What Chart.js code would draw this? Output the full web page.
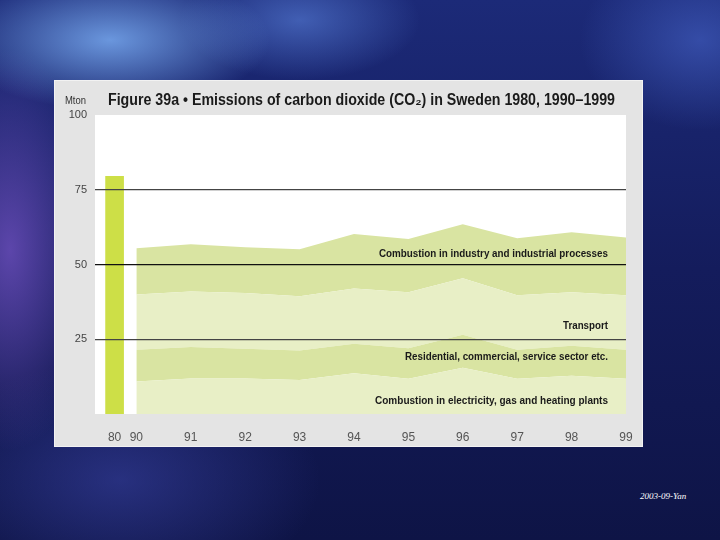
<!DOCTYPE html>
<html>
<head>
<meta charset="utf-8">
<script src="https://cdn.jsdelivr.net/npm/chart.js@4.4.1/dist/chart.umd.min.js"></script>
<style>
  html, body { margin: 0; padding: 0; }
  body {
    width: 720px; height: 540px; overflow: hidden; position: relative;
    background:
      radial-gradient(ellipse 160px 70px at 110px 40px, rgba(120,170,240,0.85), rgba(120,170,240,0) 100%),
      radial-gradient(ellipse 120px 60px at 300px 20px, rgba(90,130,220,0.6), rgba(90,130,220,0) 100%),
      radial-gradient(ellipse 90px 200px at 10px 250px, rgba(110,80,190,0.8), rgba(110,80,190,0) 100%),
      radial-gradient(ellipse 120px 90px at 700px 40px, rgba(70,100,200,0.6), rgba(70,100,200,0) 100%),
      radial-gradient(ellipse 200px 120px at 120px 480px, rgba(60,70,170,0.55), rgba(60,70,170,0) 100%),
      linear-gradient(180deg, #1c2a78 0%, #141c5c 50%, #0e1446 100%);
  }
  #panel {
    position: absolute; left: 54px; top: 80px; width: 587px; height: 365px;
    background: #e4e4e4; border: 1px solid #f2f2f2;
  }
  #stamp {
    position: absolute; left: 640px; top: 491px;
    font: italic 9px "Liberation Serif", "DejaVu Serif", serif; color: #fff;
  }
</style>
</head>
<body>
<div id="panel"><canvas id="grafico" width="587" height="365"></canvas></div>
<div id="stamp">2003-09-Yan</div>
<script>
// dados (Mton)
const anos = [1990, 1991, 1992, 1993, 1994, 1995, 1996, 1997, 1998, 1999];
const eletricidade = [10.9, 11.9, 11.9, 11.4, 13.6, 11.8, 15.5, 11.8, 12.8, 11.8];
const residencial = [10.6, 10.5, 9.9, 9.8, 9.9, 10.2, 11.0, 9.7, 10.0, 9.7];
const transporte = [18.5, 18.6, 18.7, 18.2, 18.5, 18.7, 18.9, 18.2, 17.9, 18.2];
const industria = [15.4, 15.8, 15.3, 15.7, 18.2, 17.8, 18.1, 19.1, 20.1, 19.3];
const total1980 = 79.5;
const yTicks = [25, 50, 75, 100];

const titulo = "Figure 39a \u2022 Emissions of carbon dioxide (CO\u2082) in Sweden 1980, 1990\u20131999";
// valor = altura do rotulo no eixo y, largura = largura do texto na figura
const rotulos = [
  { texto: "Combustion in industry and industrial processes", valor: 53.5, largura: 229 },
  { texto: "Transport", valor: 29.4, largura: 45 },
  { texto: "Residential, commercial, service sector etc.", valor: 19.1, largura: 203 },
  { texto: "Combustion in electricity, gas and heating plants", valor: 4.4, largura: 233 },
];

// posicao do 1980 no eixo (quebra de escala)
const POS80 = 1989.6;
const X_MIN = 1989.24;

const FONTE = "'Liberation Sans', Arial, sans-serif";
const corEscura = "#d9e4a2";
const corClara = "#e8efc6";

function serie(valores) {
  return valores.map((v, i) => ({ x: anos[i], y: v }));
}

function linha(label, valores, cor, fill) {
  return {
    type: "line",
    label: label,
    data: serie(valores),
    backgroundColor: cor,
    borderWidth: 0,
    pointRadius: 0,
    tension: 0,
    fill: fill,
    stack: "areas",
  };
}

// desenha o texto comprimido na horizontal ate a largura pedida
function textoAjustado(ctx, texto, x, y, largura) {
  let w = ctx.measureText(texto).width;
  ctx.save();
  ctx.translate(x, y);
  ctx.scale(Math.min(1, largura / w), 1);
  ctx.fillText(texto, 0, 0);
  ctx.restore();
}

const fundoBranco = {
  id: "fundoBranco",
  beforeDraw(chart) {
    const { ctx, chartArea: a } = chart;
    ctx.save();
    ctx.fillStyle = "#ffffff";
    ctx.fillRect(a.left, a.top, a.right - a.left, a.bottom - a.top);
    ctx.restore();
  },
};

const textos = {
  id: "textos",
  afterDraw(chart) {
    const { ctx, scales } = chart;
    ctx.save();
    ctx.textBaseline = "middle";
    ctx.fillStyle = "#1a1a1a";
    ctx.font = "bold 16px " + FONTE;
    ctx.textAlign = "left";
    textoAjustado(ctx, titulo, 53, 20, 507);
    ctx.fillStyle = "#333";
    ctx.font = "10px " + FONTE;
    textoAjustado(ctx, "Mton", 10, 20, 21);
    ctx.fillStyle = "#1a1a1a";
    ctx.font = "bold 11px " + FONTE;
    ctx.textAlign = "right";
    rotulos.forEach((r) => {
      textoAjustado(ctx, r.texto, 553, scales.y.getPixelForValue(r.valor), r.largura);
    });
    ctx.restore();
  },
};

const ctx = document.getElementById("grafico").getContext("2d");
new Chart(ctx, {
  type: "line",
  data: {
    datasets: [
      linha("Combustion in electricity, gas and heating plants", eletricidade, corClara, "origin"),
      linha("Residential, commercial, service sector etc.", residencial, corEscura, "-1"),
      linha("Transport", transporte, corClara, "-1"),
      linha("Combustion in industry and industrial processes", industria, corEscura, "-1"),
      {
        type: "bar",
        label: "1980",
        data: [{ x: POS80, y: total1980 }],
        backgroundColor: "#cddf47",
        barThickness: 18,
        stack: "b80",
      },
    ],
  },
  options: {
    responsive: false,
    animation: false,
    layout: { padding: { top: 34, right: 16, left: 0, bottom: 0 } },
    plugins: { legend: { display: false }, tooltip: { enabled: false } },
    scales: {
      x: {
        type: "linear",
        min: X_MIN,
        max: 1999,
        offset: false,
        grid: { display: false, offset: false },
        border: { display: false },
        afterBuildTicks(scale) {
          scale.ticks = [POS80].concat(anos).map((v) => ({ value: v }));
        },
        afterFit(scale) {
          scale.height = 32;
        },
        ticks: {
          padding: 8,
          color: "#555",
          font: { family: FONTE, size: 12 },
          maxRotation: 0,
          autoSkip: false,
          callback: (v) => (v === POS80 ? "80" : String(v).slice(2)),
        },
      },
      y: {
        stacked: true,
        min: 0,
        max: 100,
        border: { display: false },
        afterBuildTicks(scale) {
          scale.ticks = yTicks.map((v) => ({ value: v }));
        },
        afterFit(scale) {
          scale.width = 40;
        },
        grid: {
          z: 1,
          drawTicks: false,
          lineWidth: 1.2,
          color: (c) => {
            if (c.tick.value === 50) return "#111";
            if (c.tick.value === 25 || c.tick.value === 75) return "#444";
            return "rgba(0,0,0,0)";
          },
        },
        ticks: {
          padding: 8,
          color: "#444",
          font: { family: FONTE, size: 11 },
        },
      },
    },
  },
  plugins: [fundoBranco, textos],
});
</script>
</body>
</html>
